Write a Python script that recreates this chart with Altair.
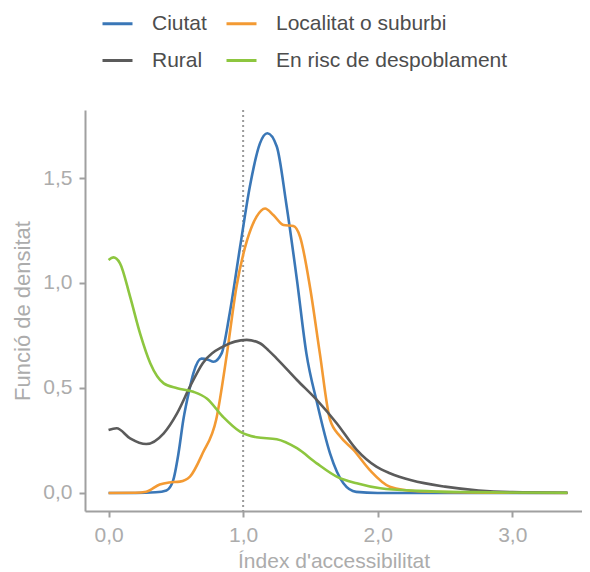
import altair as alt
import pandas as pd

categories = ["Ciutat", "Rural", "Localitat o suburbi", "En risc de despoblament"]
colors = ["#3a77b7", "#5b5b5b", "#f39a33", "#8dc63f"]
draw_order = ["Ciutat", "Localitat o suburbi", "Rural", "En risc de despoblament"]

ciutat_x = [0, 0.2, 0.35, 0.43, 0.48, 0.52, 0.556, 0.60, 0.63, 0.69, 0.74, 0.78, 0.84, 0.90, 0.977, 1.05, 1.125, 1.18, 1.25, 1.32, 1.40, 1.47, 1.55, 1.645, 1.745, 1.84, 2.0, 2.5, 3.0, 3.41]
ciutat_y = [0, 0, 0.003, 0.012, 0.06, 0.19, 0.35, 0.49, 0.57, 0.64, 0.635, 0.625, 0.665, 0.855, 1.17, 1.46, 1.665, 1.713, 1.65, 1.38, 1.014, 0.665, 0.427, 0.19, 0.046, 0.005, 0, 0, 0, 0]

local_x = [0, 0.2, 0.28, 0.38, 0.45, 0.53, 0.605, 0.70, 0.80, 0.88, 0.95, 1.03, 1.10, 1.163, 1.224, 1.30, 1.373, 1.423, 1.497, 1.57, 1.645, 1.72, 1.82, 1.94, 2.09, 2.3, 2.6, 3.0, 3.41]
local_y = [0, 0.001, 0.006, 0.04, 0.05, 0.054, 0.078, 0.19, 0.35, 0.665, 0.98, 1.205, 1.316, 1.355, 1.324, 1.276, 1.271, 1.22, 0.98, 0.665, 0.35, 0.27, 0.205, 0.11, 0.03, 0.008, 0.003, 0.001, 0]

rural_x = [0, 0.06, 0.16, 0.28, 0.41, 0.51, 0.605, 0.70, 0.85, 1.027, 1.125, 1.19, 1.25, 1.40, 1.547, 1.695, 1.844, 1.99, 2.09, 2.25, 2.5, 2.75, 3.0, 3.41]
rural_y = [0.30, 0.308, 0.26, 0.233, 0.284, 0.38, 0.506, 0.618, 0.697, 0.729, 0.713, 0.678, 0.640, 0.538, 0.443, 0.332, 0.205, 0.125, 0.094, 0.06, 0.03, 0.012, 0.004, 0.001]

risc_x = [0, 0.036, 0.085, 0.16, 0.234, 0.31, 0.41, 0.51, 0.63, 0.73, 0.85, 0.977, 1.10, 1.25, 1.40, 1.547, 1.695, 1.844, 2.02, 2.3, 2.7, 3.0, 3.41]
risc_y = [1.11, 1.122, 1.094, 0.935, 0.76, 0.618, 0.522, 0.499, 0.482, 0.45, 0.363, 0.292, 0.265, 0.256, 0.213, 0.141, 0.078, 0.046, 0.022, 0.01, 0.004, 0.002, 0.001]

x_ticks = [0, 1, 2, 3]
y_ticks = [0, 0.5, 1.0, 1.5]
ref_x = [1.0]

series = {
    "Ciutat": (ciutat_x, ciutat_y),
    "Localitat o suburbi": (local_x, local_y),
    "Rural": (rural_x, rural_y),
    "En risc de despoblament": (risc_x, risc_y),
}
rows = []
for k, cat in enumerate(draw_order):
    xs, ys = series[cat]
    for i, (xv, yv) in enumerate(zip(xs, ys)):
        rows.append({"cat": cat, "k": k, "x": xv, "y": yv, "i": i})
df = pd.DataFrame(rows)

W, H = 497, 401
FONT = "Liberation Sans"

xscale = alt.Scale(domain=[-0.175, 3.518], nice=False, zero=False)
yscale = alt.Scale(domain=[-0.086, 1.824], nice=False, zero=False)

lines = alt.Chart(df).mark_line(strokeWidth=2.6, interpolate="monotone").encode(
    x=alt.X("x:Q", scale=xscale, title="Índex d'accessibilitat",
            axis=alt.Axis(values=x_ticks, labelExpr="replace(format(datum.value, '.1f'), '.', ',')")),
    y=alt.Y("y:Q", scale=yscale, title="Funció de densitat",
            axis=alt.Axis(values=y_ticks, titleFontSize=22,
                          labelExpr="replace(format(datum.value, '.1f'), '.', ',')")),
    color=alt.Color("cat:N", scale=alt.Scale(domain=categories, range=colors),
                    legend=alt.Legend(title=None, orient="none", legendX=16, legendY=-103,
                                      columns=2, symbolType="stroke", symbolStrokeWidth=3,
                                      symbolSize=900, labelFontSize=21, labelFont=FONT,
                                      labelColor="#4d4d4d", columnPadding=13, rowPadding=10,
                                      labelOffset=18, padding=0, labelLimit=0)),
    detail="cat:N",
    order="i:Q",
)

rule = alt.Chart(pd.DataFrame({"x": ref_x})).mark_rule(
    color="#9a9a9a", strokeWidth=2, strokeDash=[2, 3]
).encode(x=alt.X("x:Q", scale=xscale), y=alt.value(0), y2=alt.value(H))

chart = alt.layer(rule, lines).properties(
    width=W, height=H,
    autosize=alt.AutoSizeParams(type="none"),
    padding={"left": 77, "top": 102, "right": 0, "bottom": 59},
).configure_view(stroke=None).configure_axis(
    grid=False, domainColor="#a0a0a0", domainWidth=2, tickColor="#a0a0a0",
    tickWidth=2, tickSize=6, labelFontSize=21, labelFont=FONT, labelColor="#acacac",
    titleFontSize=21, titleFont=FONT, titleColor="#acacac", titleFontWeight="normal",
    labelPadding=7,
).configure_axisX(titlePadding=5).configure_axisY(titlePadding=8)

chart.save("out.html", embed_options={"renderer": "svg", "actions": False})
